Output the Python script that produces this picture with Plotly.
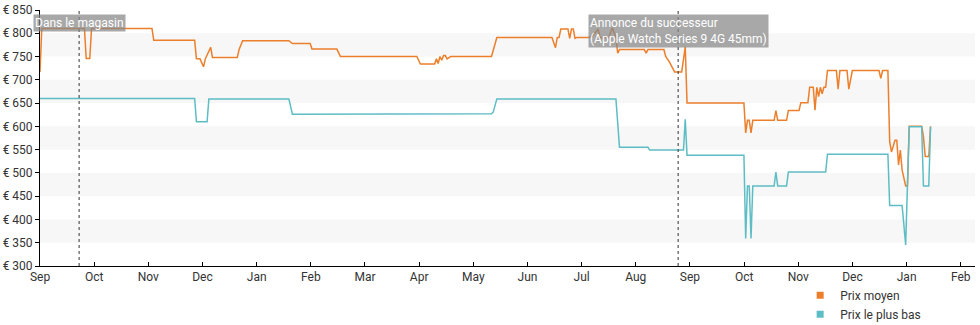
import datetime as dt
import plotly.graph_objects as go

# Average price history (EUR)
avg_dates = [
    "2022-09-01", "2022-09-02", "2022-09-26", "2022-09-27", "2022-09-29", "2022-09-30",
    "2022-11-03", "2022-11-04", "2022-11-27", "2022-11-28", "2022-11-30", "2022-12-02",
    "2022-12-03", "2022-12-06", "2022-12-07", "2022-12-21", "2022-12-22", "2022-12-24",
    "2023-01-19", "2023-01-21", "2023-01-31", "2023-02-01", "2023-02-15", "2023-02-17",
    "2023-04-01", "2023-04-03", "2023-04-11", "2023-04-12", "2023-04-13", "2023-04-14",
    "2023-04-15", "2023-04-16", "2023-04-17", "2023-04-18", "2023-04-20", "2023-05-13",
    "2023-05-16", "2023-06-16", "2023-06-18", "2023-06-19", "2023-06-20", "2023-06-21",
    "2023-06-25", "2023-06-26", "2023-06-27", "2023-06-28", "2023-06-29", "2023-06-30",
    "2023-07-07", "2023-07-09", "2023-07-12", "2023-07-13", "2023-07-18", "2023-07-20",
    "2023-07-22", "2023-07-23", "2023-07-24", "2023-08-07", "2023-08-08", "2023-08-09",
    "2023-08-18", "2023-08-19", "2023-08-21", "2023-08-22", "2023-08-24", "2023-08-28",
    "2023-08-30", "2023-08-31", "2023-10-02", "2023-10-03", "2023-10-04", "2023-10-05",
    "2023-10-06", "2023-10-07", "2023-10-19", "2023-10-20", "2023-10-21", "2023-10-26",
    "2023-10-27", "2023-11-02", "2023-11-03", "2023-11-07", "2023-11-08", "2023-11-10",
    "2023-11-11", "2023-11-12", "2023-11-13", "2023-11-14", "2023-11-15", "2023-11-16",
    "2023-11-17", "2023-11-18", "2023-11-23", "2023-11-24", "2023-11-25", "2023-11-29",
    "2023-11-30", "2023-12-02", "2023-12-17", "2023-12-18", "2023-12-19", "2023-12-22",
    "2023-12-23", "2023-12-24", "2023-12-26", "2023-12-27", "2023-12-28", "2023-12-29",
    "2023-12-30", "2024-01-01", "2024-01-02", "2024-01-03", "2024-01-10", "2024-01-11",
    "2024-01-12", "2024-01-14", "2024-01-15",
]
avg_prices = [
    717, 810, 810, 746, 746, 810,
    810, 785, 785, 745, 745, 728,
    745, 770, 748, 748, 765, 784,
    784, 778, 778, 766, 766, 750,
    750, 734, 734, 745, 735, 750,
    742, 752, 752, 745, 750, 750,
    791, 791, 769, 791, 791, 809,
    809, 789, 809, 809, 789, 791,
    791, 795, 809, 791, 791, 812,
    791, 757, 765, 765, 757, 765,
    765, 750, 739, 732, 717, 717,
    771, 650, 650, 586, 613, 613,
    586, 613, 613, 634, 613, 613,
    634, 634, 651, 651, 684, 684,
    635, 684, 664, 684, 670, 684,
    684, 720, 720, 680, 720, 720,
    680, 720, 720, 703, 720, 720,
    567, 545, 570, 570, 517, 549,
    506, 472, 472, 600, 600, 578,
    535, 535, 600,
]

# Lowest price history (EUR)
low_dates = [
    "2022-09-01", "2022-11-27", "2022-11-28", "2022-12-04", "2022-12-05", "2023-01-19",
    "2023-01-21", "2023-05-01", "2023-05-13", "2023-05-14", "2023-05-16", "2023-07-22",
    "2023-07-24", "2023-08-09", "2023-08-10", "2023-08-29", "2023-08-30", "2023-08-31",
    "2023-10-02", "2023-10-03", "2023-10-04", "2023-10-05", "2023-10-06", "2023-10-07",
    "2023-10-19", "2023-10-20", "2023-10-21", "2023-10-26", "2023-10-27", "2023-11-17",
    "2023-11-18", "2023-12-22", "2023-12-23", "2023-12-30", "2024-01-01", "2024-01-03",
    "2024-01-10", "2024-01-11", "2024-01-14", "2024-01-15",
]
low_prices = [
    660, 660, 610, 610, 659, 659,
    626, 626, 627, 631, 659, 659,
    555, 555, 549, 549, 615, 538,
    538, 359, 472, 472, 359, 472,
    472, 502, 472, 472, 502, 502,
    540, 540, 430, 430, 345, 599,
    599, 472, 472, 599,
]

# Marked events
event_dates = ["2022-09-23", "2023-08-26"]
event_labels = [
    "Dans le magasin",
    "Annonce du successeur<br>(Apple Watch Series 9 4G 45mm)",
]

# Axis labels
month_labels = ["Sep", "Oct", "Nov", "Dec", "Jan", "Feb", "Mar", "Apr", "May",
                "Jun", "Jul", "Aug", "Sep", "Oct", "Nov", "Dec", "Jan", "Feb"]
price_ticks = list(range(300, 851, 50))
price_labels = ["€ %d" % p for p in price_ticks]

series_names = ["Prix moyen", "Prix le plus bas"]
series_colors = ["#ec7f2c", "#5dbdc5"]

FONT = "Roboto, 'Open Sans', sans-serif"

# Month labels are spread evenly over the span Sep 2022 .. Feb 2024
start = dt.datetime(2022, 9, 1)
end = dt.datetime(2024, 2, 1)
span = (end - start) / (len(month_labels) - 1)
tick_vals = [start + span * k for k in range(len(month_labels))]

fig = go.Figure()

fig.add_trace(go.Scatter(x=avg_dates, y=avg_prices, mode="lines",
                         line=dict(color=series_colors[0], width=1.5),
                         showlegend=False, hoverinfo="skip"))
fig.add_trace(go.Scatter(x=low_dates, y=low_prices, mode="lines",
                         line=dict(color=series_colors[1], width=1.5),
                         showlegend=False, hoverinfo="skip"))

# Square legend swatches
for name, color in zip(series_names, series_colors):
    fig.add_trace(go.Scatter(x=[None], y=[None], mode="markers", name=name,
                             marker=dict(symbol="square", size=7, color=color)))

# Alternating horizontal bands behind the plot
shapes = []
for lo, hi in zip(price_ticks[1::2], price_ticks[2::2]):
    shapes.append(dict(type="rect", xref="paper", yref="y", x0=0, x1=1,
                       y0=lo, y1=hi, fillcolor="#f7f7f7", line=dict(width=0),
                       layer="below"))

# Event lines and labels
annotations = []
for d, label in zip(event_dates, event_labels):
    shapes.append(dict(type="line", xref="x", yref="paper", x0=d, x1=d, y0=0, y1=1,
                       line=dict(color="#333333", width=1, dash="dot")))
    annotations.append(dict(x=d, xref="x", y=1, yref="paper", yanchor="top",
                            xanchor="center", yshift=-4, text=label, align="left",
                            showarrow=False, bgcolor="rgba(135,135,135,0.72)",
                            borderpad=1,
                            font=dict(family=FONT, size=12, color="white")))

fig.update_layout(
    width=980, height=325,
    margin=dict(l=40, r=5, t=10, b=59, autoexpand=False),
    paper_bgcolor="white", plot_bgcolor="white",
    font=dict(family=FONT, size=12, color="#333333"),
    shapes=shapes, annotations=annotations,
    showlegend=True,
    legend=dict(x=0.813, y=-0.058, xanchor="left", yanchor="top",
                font=dict(family=FONT, size=12, color="#333333"),
                bgcolor="rgba(0,0,0,0)", itemwidth=30, tracegroupgap=0),
    xaxis=dict(type="date", range=["2022-09-01", "2024-02-09"],
               tickvals=tick_vals, ticktext=month_labels,
               showgrid=False, zeroline=False,
               showline=True, linecolor="black", linewidth=1,
               ticks="inside", ticklen=4, tickcolor="black",
               tickfont=dict(size=12, color="#333333")),
    yaxis=dict(range=[300, 850], tickvals=price_ticks, ticktext=price_labels,
               showgrid=False, zeroline=False,
               showline=True, linecolor="black", linewidth=1,
               ticks="outside", ticklen=4, tickcolor="black",
               tickfont=dict(size=12, color="#333333")),
)

fig.write_html("out.html")
